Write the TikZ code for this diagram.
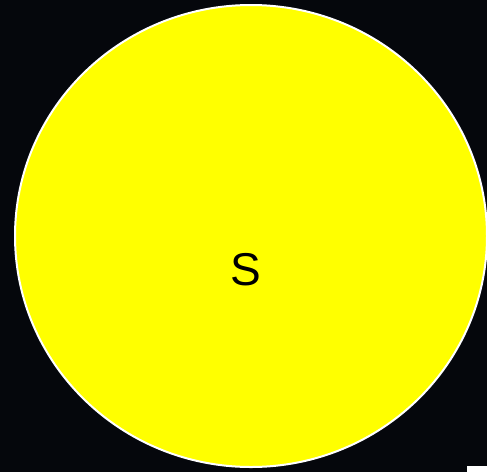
\documentclass[tikz,border=0pt]{standalone}
\usepackage{fontspec}
\setmainfont{Liberation Sans}
\definecolor{bgdark}{RGB}{5,7,12}
\definecolor{sunyellow}{RGB}{255,255,0}
\begin{document}
\begin{tikzpicture}[x=1pt,y=-1pt,
  sunstyle/.style={draw=white, line width=2pt, fill=sunyellow},
  labelstyle/.style={font=\fontsize{46}{46}\selectfont, text=black, inner sep=0pt, anchor=base}]
\fill[bgdark] (0,0) rectangle (487,472);
\useasboundingbox (0,0) rectangle (487,472);
\begin{scope}
\clip (0,0) rectangle (487,472);
\filldraw[sunstyle] (251,236) ellipse [x radius=236, y radius=231];
\fill[white] (467,466) rectangle (490,475);
\end{scope}
\node[labelstyle] (s) at (245.5,285) {S};
\end{tikzpicture}
\end{document}
